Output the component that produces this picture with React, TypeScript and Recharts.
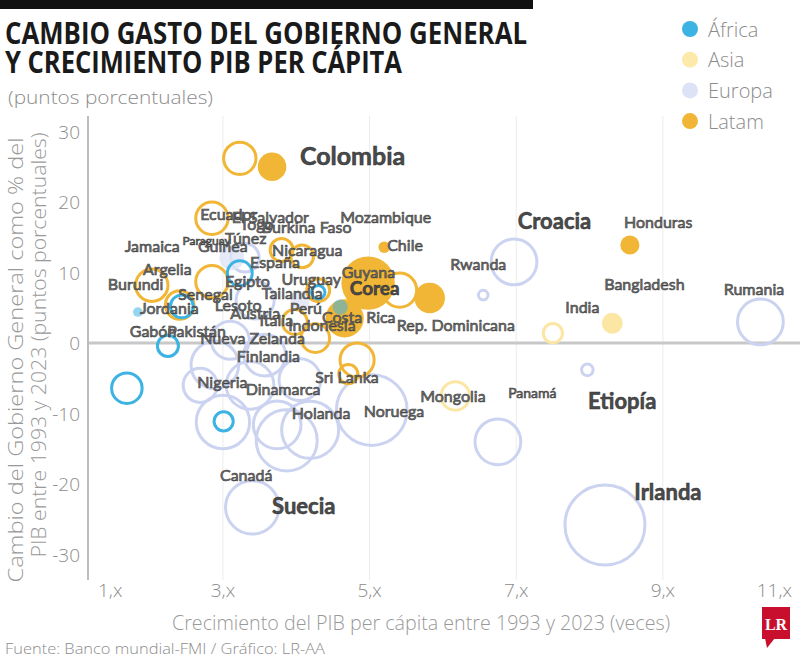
import React from 'react';
import { ScatterChart, Scatter, XAxis, YAxis, ZAxis, ReferenceLine } from 'recharts';

type Punto = { pais: string; x: number; y: number; z: number };
type Rotulo = { pais: string; x: number; y: number };

// x: crecimiento del PIB per cápita 1993-2023 (veces)
// y: cambio del gasto del gobierno general (puntos porcentuales del PIB)
// z: peso relativo de cada economía (área de la burbuja)

const africaAros: Punto[] = [
  { pais: 'Nigeria', x: 1.69, y: -6.4, z: 16 },
  { pais: 'Gabón', x: 2.25, y: -0.4, z: 7.6 },
  { pais: 'Sudáfrica', x: 3.01, y: -11.1, z: 6.3 },
  { pais: 'Egipto', x: 3.23, y: 9.9, z: 10.6 },
  { pais: 'Jordania', x: 2.44, y: 5.2, z: 9 },
  { pais: 'Ghana', x: 4.3, y: 7.2, z: 3.1 },
];

const africaSolidos: Punto[] = [
  { pais: 'Burundi', x: 1.84, y: 4.4, z: 1.6 },
  { pais: 'Lesoto', x: 4.6, y: 5.1, z: 4 },
];

const asiaAros: Punto[] = [
  { pais: 'India', x: 7.5, y: 1.4, z: 6.3 },
  { pais: 'Mongolia', x: 6.17, y: -7.5, z: 14 },
];

const asiaSolidos: Punto[] = [{ pais: 'Bangladesh', x: 8.31, y: 2.8, z: 7.6 }];

const europaAros: Punto[] = [
  { pais: 'Irlanda', x: 8.21, y: -25.8, z: 110 },
  { pais: 'Rumania', x: 10.33, y: 3.0, z: 36 },
  { pais: 'Croacia', x: 6.97, y: 11.5, z: 36 },
  { pais: 'Eslovenia', x: 6.55, y: 6.8, z: 1.6 },
  { pais: 'Estonia', x: 7.97, y: -3.8, z: 2.3 },
  { pais: 'Polonia', x: 6.75, y: -14.0, z: 36 },
  { pais: 'Noruega', x: 5.03, y: -9.5, z: 86 },
  { pais: 'Suecia', x: 3.4, y: -23.3, z: 49 },
  { pais: 'Holanda', x: 3.87, y: -13.8, z: 64 },
  { pais: 'Canadá', x: 3.0, y: -11.2, z: 49 },
  { pais: 'Dinamarca', x: 3.74, y: -11.6, z: 39 },
  { pais: 'Finlandia', x: 3.37, y: -6.0, z: 39 },
  { pais: 'Alemania', x: 2.89, y: -3.1, z: 39 },
  { pais: 'Austria', x: 3.57, y: -1.7, z: 30 },
  { pais: 'Nueva Zelanda', x: 3.1, y: 0.4, z: 25 },
  { pais: 'Bélgica', x: 4.05, y: -5.2, z: 30 },
  { pais: 'Francia', x: 2.69, y: -6.0, z: 20 },
  { pais: 'Reino Unido', x: 4.19, y: -12.3, z: 56 },
  { pais: 'Italia', x: 3.44, y: 6.1, z: 25 },
  { pais: 'España', x: 3.3, y: 12.1, z: 14 },
];

const europaSolidos: Punto[] = [
  { pais: 'Portugal', x: 3.12, y: 12.1, z: 10.6 },
  { pais: 'Grecia', x: 4.05, y: 6.1, z: 6.3 },
];

const latamSolidos: Punto[] = [
  { pais: 'Colombia', x: 3.67, y: 25.0, z: 14 },
  { pais: 'Corea', x: 4.98, y: 8.5, z: 49 },
  { pais: 'Costa Rica', x: 4.66, y: 3.5, z: 25 },
  { pais: 'Chile', x: 5.2, y: 13.6, z: 2.3 },
  { pais: 'Rep. Dominicana', x: 5.82, y: 6.4, z: 16 },
  { pais: 'Honduras', x: 8.55, y: 13.9, z: 6.3 },
];

const latamAros: Punto[] = [
  { pais: 'Colombia 1993', x: 3.23, y: 26.2, z: 18 },
  { pais: 'Ecuador', x: 2.85, y: 17.7, z: 18 },
  { pais: 'Jamaica', x: 2.03, y: 8.2, z: 18 },
  { pais: 'Argentina', x: 2.85, y: 8.7, z: 18 },
  { pais: 'Paraguay', x: 2.41, y: 5.4, z: 14 },
  { pais: 'Nicaragua', x: 3.8, y: 13.2, z: 9 },
  { pais: 'El Salvador', x: 4.08, y: 12.3, z: 9 },
  { pais: 'Uruguay', x: 4.3, y: 7.5, z: 9 },
  { pais: 'Perú', x: 3.98, y: 3.0, z: 10.6 },
  { pais: 'Guyana', x: 4.26, y: 0.7, z: 14 },
  { pais: 'Sri Lanka', x: 4.83, y: -2.4, z: 20 },
  { pais: 'Bolivia', x: 4.71, y: -4.4, z: 6.3 },
  { pais: 'Panamá', x: 5.41, y: 7.5, z: 20 },
];

const rotulos: Rotulo[] = [
  { pais: 'Colombia', x: 4.05, y: 26.7 },
  { pais: 'Croacia', x: 7.02, y: 17.45 },
  { pais: 'Corea', x: 4.73, y: 7.94 },
  { pais: 'Etiopía', x: 7.98, y: -8.09 },
  { pais: 'Irlanda', x: 8.61, y: -21.0 },
  { pais: 'Suecia', x: 3.67, y: -23.1 },
  { pais: 'Honduras', x: 8.47, y: 17.2 },
  { pais: 'Bangladesh', x: 8.2, y: 8.4 },
  { pais: 'India', x: 7.67, y: 5.2 },
  { pais: 'Rumania', x: 9.83, y: 7.7 },
  { pais: 'Rwanda', x: 6.1, y: 11.3 },
  { pais: 'Rep. Dominicana', x: 5.37, y: 2.7 },
  { pais: 'Chile', x: 5.24, y: 14.0 },
  { pais: 'Mozambique', x: 4.6, y: 17.9 },
  { pais: 'Costa Rica', x: 4.35, y: 3.7 },
  { pais: 'Mongolia', x: 5.69, y: -7.5 },
  { pais: 'Panamá', x: 6.89, y: -7.0 },
  { pais: 'Noruega', x: 4.92, y: -9.6 },
  { pais: 'Holanda', x: 3.94, y: -9.8 },
  { pais: 'Sri Lanka', x: 4.26, y: -4.7 },
  { pais: 'Dinamarca', x: 3.31, y: -6.5 },
  { pais: 'Nigeria', x: 2.65, y: -5.5 },
  { pais: 'Canadá', x: 2.96, y: -18.6 },
  { pais: 'Finlandia', x: 3.19, y: -1.7 },
  { pais: 'Nueva Zelanda', x: 2.69, y: 0.85 },
  { pais: 'Gabón', x: 1.73, y: 1.8 },
  { pais: 'Pakistán', x: 2.24, y: 1.8 },
  { pais: 'Jordania', x: 1.87, y: 5.0 },
  { pais: 'Burundi', x: 1.43, y: 8.5 },
  { pais: 'Argelia', x: 1.91, y: 10.6 },
  { pais: 'Jamaica', x: 1.66, y: 13.8 },
  { pais: 'Paraguay', x: 2.45, y: 14.6 },
  { pais: 'Guinea', x: 2.66, y: 13.8 },
  { pais: 'Túnez', x: 3.03, y: 14.9 },
  { pais: 'Ecuador', x: 2.69, y: 18.4 },
  { pais: 'El Salvador', x: 3.12, y: 18.0 },
  { pais: 'Togo', x: 3.23, y: 17.0 },
  { pais: 'Burkina Faso', x: 3.53, y: 16.6 },
  { pais: 'España', x: 3.37, y: 11.5 },
  { pais: 'Nicaragua', x: 3.67, y: 13.2 },
  { pais: 'Egipto', x: 3.03, y: 8.9 },
  { pais: 'Uruguay', x: 3.8, y: 9.2 },
  { pais: 'Guyana', x: 4.62, y: 10.1 },
  { pais: 'Tailandia', x: 3.53, y: 7.2 },
  { pais: 'Senegal', x: 2.39, y: 7.0 },
  { pais: 'Austria', x: 3.1, y: 4.3 },
  { pais: 'Perú', x: 3.91, y: 5.0 },
  { pais: 'Indonesia', x: 3.89, y: 2.6 },
  { pais: 'Lesoto', x: 2.89, y: 5.4 },
  { pais: 'Italia', x: 3.5, y: 3.3 },
];

const Y_TICKS = [-30, -20, -10, 0, 10, 20, 30];
const X_DOMAIN: [number, number] = [1.16, 10.87];
const X_TICKS = [X_DOMAIN[0], 3, 5, 7, 9, X_DOMAIN[1]];
const X_TICK_LABELS = ['1,x', '3,x', '5,x', '7,x', '9,x', '11,x'];
const X_GRID = [3, 5, 7, 9];

const AZUL = '#3db3e3';
const AMARILLO = '#fce6a3';
const LAVANDA = '#cbd3f0';
const NARANJA = '#f1b635';

const regiones = [
  { nombre: 'África', color: AZUL },
  { nombre: 'Asia', color: '#fde9a9' },
  { nombre: 'Europa', color: '#dde2f6' },
  { nombre: 'Latam', color: NARANJA },
];

const ESTILO_ROTULO: Record<string, { size: number; weight: number }> = {
  Colombia: { size: 25, weight: 700 },
  Croacia: { size: 22, weight: 700 },
  Etiopía: { size: 22, weight: 700 },
  Irlanda: { size: 22, weight: 700 },
  Suecia: { size: 22, weight: 700 },
  Corea: { size: 19, weight: 700 },
  Panamá: { size: 14, weight: 400 },
  Paraguay: { size: 12, weight: 400 },
};

const W = 800;
const H = 666;
const PLOT = { left: 88, top: 116, right: 800, bottom: 580 };

const GRIS = '#8c8c8c';
const FUENTE = "'Open Sans', 'Noto Sans', sans-serif";

const radio = (p: any) => {
  if (typeof p.size === 'number' && p.size > 0) return Math.sqrt(p.size / Math.PI);
  return (p.width || 4) / 2;
};

const aro = (color: string) => (p: any) => (
  <circle cx={p.cx} cy={p.cy} r={radio(p)} fill="none" stroke={color} strokeWidth={3} />
);

const disco = (color: string, opacity = 1) => (p: any) => (
  <circle cx={p.cx} cy={p.cy} r={radio(p)} fill={color} fillOpacity={opacity} />
);

const RotuloPais = (p: any) => {
  const nombre: string = p.payload.pais;
  const est = ESTILO_ROTULO[nombre] ?? { size: 16, weight: 400 };
  const destacado = est.weight === 700;
  return (
    <text
      x={p.cx}
      y={p.cy}
      dominantBaseline="central"
      fontFamily="Lato, 'Open Sans', sans-serif"
      fontSize={est.size}
      fontWeight={est.weight}
      fill={destacado ? '#4a4a4a' : '#727272'}
      stroke={destacado ? '#2e2e2e' : '#404040'}
      strokeWidth={destacado ? 0.5 : 0.6}
    >
      {nombre}
    </text>
  );
};

const TickX = (p: any) => {
  const { x, index } = p;
  const ultimo = index === X_TICKS.length - 1;
  const anchor = index === 0 ? 'start' : ultimo ? 'end' : 'middle';
  const dx = index === 0 ? 10 : ultimo ? -8 : 0;
  return (
    <text
      x={x + dx}
      y={PLOT.bottom + 10}
      textAnchor={anchor}
      dominantBaseline="central"
      fontFamily={FUENTE}
      fontWeight={300}
      fontSize={19}
      fill={GRIS}
    >
      {X_TICK_LABELS[index]}
    </text>
  );
};

const TickY = (p: any) => {
  const { y, payload } = p;
  return (
    <text
      x={PLOT.left - 8}
      y={y}
      textAnchor="end"
      dominantBaseline="central"
      fontFamily={FUENTE}
      fontWeight={300}
      fontSize={19}
      fill={GRIS}
    >
      {payload.value}
    </text>
  );
};

function Marco() {
  return (
    <svg width={W} height={H} style={{ position: 'absolute', left: 0, top: 0 }}>
      <rect x={0} y={0} width={533} height={9} fill="#111" />
      <text x={5} y={44} fontFamily={FUENTE} fontWeight={700} fontSize={30} fill="#1a1a1a" textLength={522} lengthAdjust="spacingAndGlyphs">
        CAMBIO GASTO DEL GOBIERNO GENERAL
      </text>
      <text x={5} y={73} fontFamily={FUENTE} fontWeight={700} fontSize={30} fill="#1a1a1a" textLength={397} lengthAdjust="spacingAndGlyphs">
        Y CRECIMIENTO PIB PER CÁPITA
      </text>
      <text x={8} y={104} fontFamily={FUENTE} fontWeight={300} fontSize={19} fill={GRIS} textLength={205} lengthAdjust="spacingAndGlyphs">
        (puntos porcentuales)
      </text>

      {regiones.map((r, i) => (
        <g key={r.nombre}>
          <circle cx={690} cy={29 + i * 30.7} r={8} fill={r.color} />
          <text x={708} y={29 + i * 30.7} dominantBaseline="central" fontFamily={FUENTE} fontWeight={300} fontSize={20} fill={GRIS}>
            {r.nombre}
          </text>
        </g>
      ))}

      <text x={15} y={360} transform="rotate(-90 15 360)" textAnchor="middle" dominantBaseline="central" fontFamily={FUENTE} fontWeight={300} fontSize={20} fill="#999" textLength={445} lengthAdjust="spacingAndGlyphs">
        Cambio del Gobierno General como % del
      </text>
      <text x={38} y={345} transform="rotate(-90 38 345)" textAnchor="middle" dominantBaseline="central" fontFamily={FUENTE} fontWeight={300} fontSize={20} fill="#999" textLength={425} lengthAdjust="spacingAndGlyphs">
        PIB entre 1993 y 2023 (puntos porcentuales)
      </text>

      <text x={172} y={622} dominantBaseline="central" fontFamily={FUENTE} fontWeight={300} fontSize={20} fill="#999" textLength={498} lengthAdjust="spacingAndGlyphs">
        Crecimiento del PIB per cápita entre 1993 y 2023 (veces)
      </text>
      <text x={5} y={648} dominantBaseline="central" fontFamily={FUENTE} fontWeight={300} fontSize={14} fill={GRIS} textLength={320} lengthAdjust="spacingAndGlyphs">
        Fuente:  Banco mundial-FMI / Gráfico: LR-AA
      </text>

      <rect x={762} y={607} width={28} height={32} fill="#c8102e" />
      <polygon points="765,638 775,638 767,648" fill="#c8102e" />
      <text x={776} y={624} textAnchor="middle" dominantBaseline="central" fontFamily="'Liberation Serif', serif" fontWeight={700} fontSize={16} fill="#fff">
        LR
      </text>
    </svg>
  );
}

export default function App() {
  return (
    <div style={{ position: 'absolute', left: 0, top: 0, width: W, height: H, background: '#fff', overflow: 'hidden' }}>
      <Marco />
      <div style={{ position: 'absolute', left: 0, top: 0 }}>
        <ScatterChart
          width={W}
          height={H}
          margin={{ top: PLOT.top, right: W - PLOT.right, bottom: 0, left: 0 }}
        >
          <XAxis
            type="number"
            dataKey="x"
            domain={X_DOMAIN}
            ticks={X_TICKS}
            interval={0}
            height={H - PLOT.bottom}
            axisLine={false}
            tickLine={false}
            tick={<TickX />}
            allowDataOverflow
          />
          <YAxis
            type="number"
            dataKey="y"
            domain={[-33.6, 32.2]}
            ticks={Y_TICKS}
            interval={0}
            width={PLOT.left}
            tickLine={false}
            axisLine={{ stroke: '#bdbdbd', strokeWidth: 2 }}
            tick={<TickY />}
            allowDataOverflow
          />
          <ZAxis type="number" dataKey="z" domain={[0, 100]} range={[0, Math.PI * 1600]} />

          {X_GRID.map((v) => (
            <ReferenceLine key={v} x={v} stroke="#ececec" strokeWidth={1} />
          ))}
          <ReferenceLine y={0} stroke="#c8c8c8" strokeWidth={3} />

          <Scatter data={europaAros} shape={aro(LAVANDA)} isAnimationActive={false} />
          <Scatter data={europaSolidos} shape={disco('#dfe4f6', 0.8)} isAnimationActive={false} />
          <Scatter data={asiaAros} shape={aro(AMARILLO)} isAnimationActive={false} />
          <Scatter data={asiaSolidos} shape={disco(AMARILLO)} isAnimationActive={false} />
          <Scatter data={latamSolidos} shape={disco(NARANJA)} isAnimationActive={false} />
          <Scatter data={latamAros} shape={aro(NARANJA)} isAnimationActive={false} />
          <Scatter data={africaAros} shape={aro(AZUL)} isAnimationActive={false} />
          <Scatter data={africaSolidos} shape={disco(AZUL, 0.55)} isAnimationActive={false} />
          <Scatter data={rotulos} shape={<RotuloPais />} isAnimationActive={false} />
        </ScatterChart>
      </div>
    </div>
  );
}
